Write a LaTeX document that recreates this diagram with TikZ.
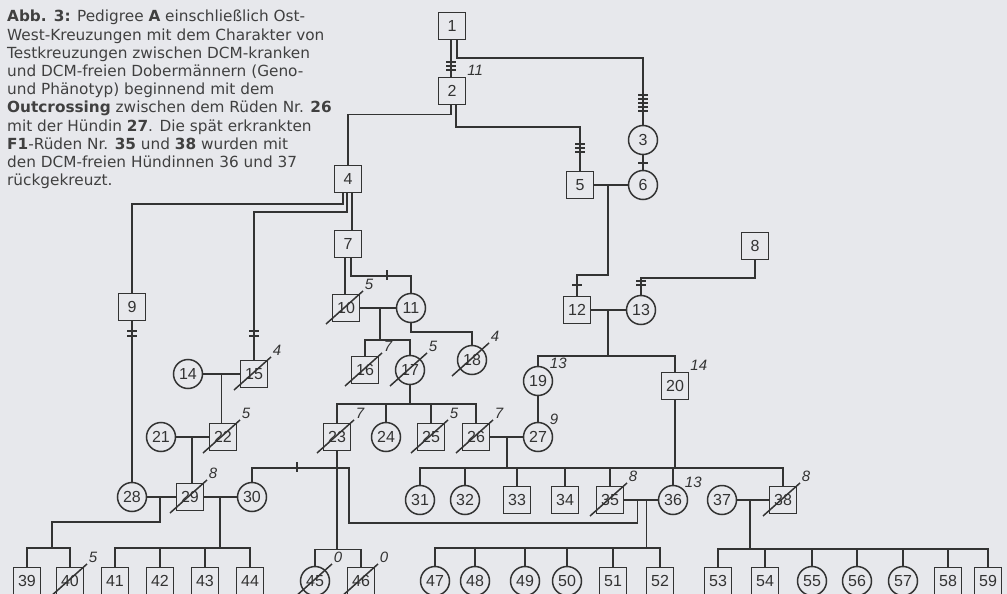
\documentclass[tikz,border=0pt]{standalone}
\usepackage{fontspec}
\setmainfont{DejaVu Sans}
\newfontfamily\handfont{Liberation Sans}
\usepackage{xcolor}
\definecolor{papier}{HTML}{E7E8EC}
\definecolor{tinte}{HTML}{333333}
\definecolor{schrift}{HTML}{404040}
\usepackage{tikz}

\newcommand{\erkrankt}[2]{\draw[linie] (#1.center) +(-20,16) -- +(17,-17) node[alter, anchor=south west] {#2};}

\begin{document}
\begin{tikzpicture}[x=1pt, y=-1pt,
			linie/.style={draw=tinte, line width=1.5pt},
			ruede/.style={rectangle, draw=tinte, line width=1.5pt, minimum size=27pt, inner sep=0pt, text=tinte, font=\handfont\fontsize{16}{16}\selectfont},
			huendin/.style={circle, draw=tinte, line width=1.5pt, minimum size=29pt, inner sep=0pt, text=tinte, font=\handfont\fontsize{16}{16}\selectfont},
			alter/.style={inner sep=1pt, text=tinte, font=\handfont\itshape\fontsize{15}{15}\selectfont},
			legende/.style={align=left, inner sep=0pt, text=schrift, font=\fontsize{15.3}{18.2}\selectfont},
			]
			\fill[papier] (0,0) rectangle (1007,594);
			\useasboundingbox (0,0) rectangle (1007,594);
			
			\node[legende, anchor=north west] (text) at (7,10) {\textbf{Abb. 3:} Pedigree \textbf{A} einschließlich Ost-\\
				West-Kreuzungen mit dem Charakter von\\
				Testkreuzungen zwischen DCM-kranken\\
				und DCM-freien Dobermännern (Geno-\\
				und Phänotyp) beginnend mit dem\\
				\textbf{Outcrossing} zwischen dem Rüden Nr. \textbf{26}\\
				mit der Hündin \textbf{27}. Die spät erkrankten\\
				\textbf{F1}-Rüden Nr. \textbf{35} und \textbf{38} wurden mit\\
				den DCM-freien Hündinnen 36 und 37\\
				rückgekreuzt.};
			
			\node[ruede] (n1) at (452,26) {1};
			\node[ruede, label={[alter]north east:11}] (n2) at (452,91) {2};
			\node[huendin] (n3) at (643,140) {3};
			\node[ruede] (n4) at (348,179) {4};
			\node[ruede] (n5) at (580,185) {5};
			\node[huendin] (n6) at (643,185) {6};
			\node[ruede] (n7) at (348,244) {7};
			\node[ruede] (n8) at (755,246) {8};
			\node[ruede] (n9) at (132,307) {9};
			\node[ruede] (n10) at (346,308) {10};
			\node[huendin] (n11) at (411,308) {11};
			\node[ruede] (n12) at (577,310) {12};
			\node[huendin] (n13) at (641,310) {13};
			\node[huendin] (n14) at (188,374) {14};
			\node[ruede] (n15) at (254,374) {15};
			\node[ruede] (n16) at (365,370) {16};
			\node[huendin] (n17) at (410,370) {17};
			\node[huendin] (n18) at (472,360) {18};
			\node[huendin, label={[alter]north east:13}] (n19) at (538,381) {19};
			\node[ruede, label={[alter]north east:14}] (n20) at (675,386) {20};
			\node[huendin] (n21) at (161,437) {21};
			\node[ruede] (n22) at (223,437) {22};
			\node[ruede] (n23) at (337,437) {23};
			\node[huendin] (n24) at (386,437) {24};
			\node[ruede] (n25) at (431,437) {25};
			\node[ruede] (n26) at (476,437) {26};
			\node[huendin, label={[alter]north east:9}] (n27) at (538,437) {27};
			\node[huendin] (n28) at (132,497) {28};
			\node[ruede] (n29) at (190,497) {29};
			\node[huendin] (n30) at (252,497) {30};
			\node[huendin] (n31) at (420,500) {31};
			\node[huendin] (n32) at (465,500) {32};
			\node[ruede] (n33) at (517,500) {33};
			\node[ruede] (n34) at (565,500) {34};
			\node[ruede] (n35) at (610,500) {35};
			\node[huendin, label={[alter]north east:13}] (n36) at (673,500) {36};
			\node[huendin] (n37) at (722,500) {37};
			\node[ruede] (n38) at (783,500) {38};
			
			\foreach \nr/\x in {39/27, 40/70, 41/115, 42/160, 43/205, 44/250, 46/361, 51/613, 52/660, 53/718, 54/765, 58/948, 59/988}
			\node[ruede] (n\nr) at (\x,581) {\nr};
			\foreach \nr/\x in {45/315, 47/435, 48/475, 49/525, 50/567, 55/812, 56/857, 57/903}
			\node[huendin] (n\nr) at (\x,581) {\nr};
			
			\draw[linie] ([xshift=-1pt]n1.south) -- ([xshift=-1pt]n2.north);
			\draw[linie] ([xshift=5pt]n1.south) -- ++(0,18) -| (n3);
			\draw[linie] (n3) -- (n6);
			\draw[linie] ([xshift=-1pt]n2.south) -- ++(0,9) -| (n4);
			\draw[linie] ([xshift=4pt]n2.south) -- ++(0,21.5) -| (n5);
			\draw[linie] (n5) -- coordinate[pos=0.41] (m56) (n6);
			\draw[linie] (m56) -- ++(0,90) -| (n12);
			\draw[linie] (n8.south) -- ++(0,17.5) -| (n13);
			\draw[linie] (n12) -- coordinate[pos=0.49] (m1213) (n13);
			\draw[linie] (m1213) -- ++(0,46) coordinate (s1213);
			\draw[linie] (n19) |- (s1213) -| (n20);
			
			\draw[linie] ([xshift=-5pt]n4.south) -- ++(0,10.5) -| (n9);
			\draw[linie] ([xshift=-1pt]n4.south) -- ++(0,18.5) -| (n15);
			\draw[linie] ([xshift=4pt]n4.south) -- ([xshift=4pt]n7.north);
			\draw[linie] ([xshift=-3pt]n7.south) -- ([xshift=-3pt]n7.south |- n10.north);
			\draw[linie] ([xshift=3pt]n7.south) -- ++(0,17.5) -| (n11);
			\draw[linie] (n10) -- coordinate[pos=0.55] (m1011) (n11);
			\draw[linie] (m1011) -- ++(0,32) coordinate (s1011);
			\draw[linie] (n16) |- (s1011) -| (n17);
			\draw[linie] (n11.south) -- ++(0,8.5) -| (n18);
			
			\draw[linie] (n17.south) -- ++(0,18.5) coordinate (s17);
			\draw[linie] (n23) |- (s17) -| (n26);
			\draw[linie] (n24) -- (n24 |- s17);
			\draw[linie] (n25) -- (n25 |- s17);
			\draw[linie] (n19) -- (n27);
			\draw[linie] (n26) -- coordinate[pos=0.51] (m2627) (n27);
			\draw[linie] (m2627) -- ++(0,31) coordinate (s2627);
			\draw[linie] (n31) |- (s2627) -| (n38);
			\foreach \k in {32,33,34,35,36}
			\draw[linie] (n\k) -- (n\k |- s2627);
			\draw[linie] (n20) -- (n20 |- s2627);
			
			\draw[linie] (n9) -- (n28);
			\draw[linie] (n14) -- coordinate[pos=0.5] (m1415) (n15);
			\draw[linie] (m1415) -- (m1415 |- n22.north);
			\draw[linie] (n21) -- coordinate[pos=0.49] (m2122) (n22);
			\draw[linie] (m2122) -- (m2122 |- n29.north);
			\draw[linie] (n28) -- coordinate[pos=0.45] (m2829) (n29);
			\draw[linie] (n29) -- coordinate[pos=0.49] (m2930) (n30);
			\draw[linie] (m2829) -- ++(0,25) -| ++(-108,26) coordinate (s2829);
			\draw[linie] (n39) |- (s2829) -| (n40);
			\draw[linie] (m2930) -- ++(0,51) coordinate (s2930);
			\draw[linie] (n41) |- (s2930) -| (n44);
			\foreach \k in {42,43}
			\draw[linie] (n\k) -- (n\k |- s2930);
			
			\draw[linie] (n23.south) -- coordinate[pos=0.17] (k23) ++(0,98) coordinate (s2330);
			\draw[linie] (n30) |- (k23);
			\draw[linie] (n45) |- (s2330) -| (n46);
			\draw[linie] (n35) -- coordinate[pos=0.39] (r35) coordinate[pos=0.67] (m3536) (n36);
			\draw[linie] (k23) -| ++(12,55) -| (r35);
			\draw[linie] (m3536) -- ++(0,48) coordinate (s3536);
			\draw[linie] (n47) |- (s3536) -| (n52);
			\foreach \k in {48,49,50,51}
			\draw[linie] (n\k) -- (n\k |- s3536);
			\draw[linie] (n37) -- coordinate[pos=0.41] (m3738) (n38);
			\draw[linie] (m3738) -- ++(0,49) coordinate (s3738);
			\draw[linie] (n53) |- (s3738) -| (n59);
			\foreach \k in {54,55,56,57,58}
			\draw[linie] (n\k) -- (n\k |- s3738);
			
			\foreach \y in {62,66,70} \draw[linie] (451,\y) +(-5,0) -- +(5,0);
			\foreach \y in {95,99,103,107,111} \draw[linie] (643,\y) +(-5,0) -- +(5,0);
			\draw[linie] (643,163) +(-5,0) -- +(5,0);
			\foreach \y in {144,148,152} \draw[linie] (580,\y) +(-5,0) -- +(5,0);
			\draw[linie] (577,285) +(-5,0) -- +(5,0);
			\foreach \y in {281,285} \draw[linie] (641,\y) +(-5,0) -- +(5,0);
			\foreach \y in {331,336} \draw[linie] (132,\y) +(-5,0) -- +(5,0);
			\foreach \y in {331,336} \draw[linie] (254,\y) +(-5,0) -- +(5,0);
			\draw[linie] (387,275) +(0,-5) -- +(0,5);
			\draw[linie] (297,467) +(0,-5) -- +(0,5);
			
			\erkrankt{n10}{5}
			\erkrankt{n15}{4}
			\erkrankt{n16}{7}
			\erkrankt{n17}{5}
			\erkrankt{n18}{4}
			\erkrankt{n22}{5}
			\erkrankt{n23}{7}
			\erkrankt{n25}{5}
			\erkrankt{n26}{7}
			\erkrankt{n29}{8}
			\erkrankt{n35}{8}
			\erkrankt{n38}{8}
			\erkrankt{n40}{5}
			\erkrankt{n45}{0}
			\erkrankt{n46}{0}
		\end{tikzpicture}
\end{document}
